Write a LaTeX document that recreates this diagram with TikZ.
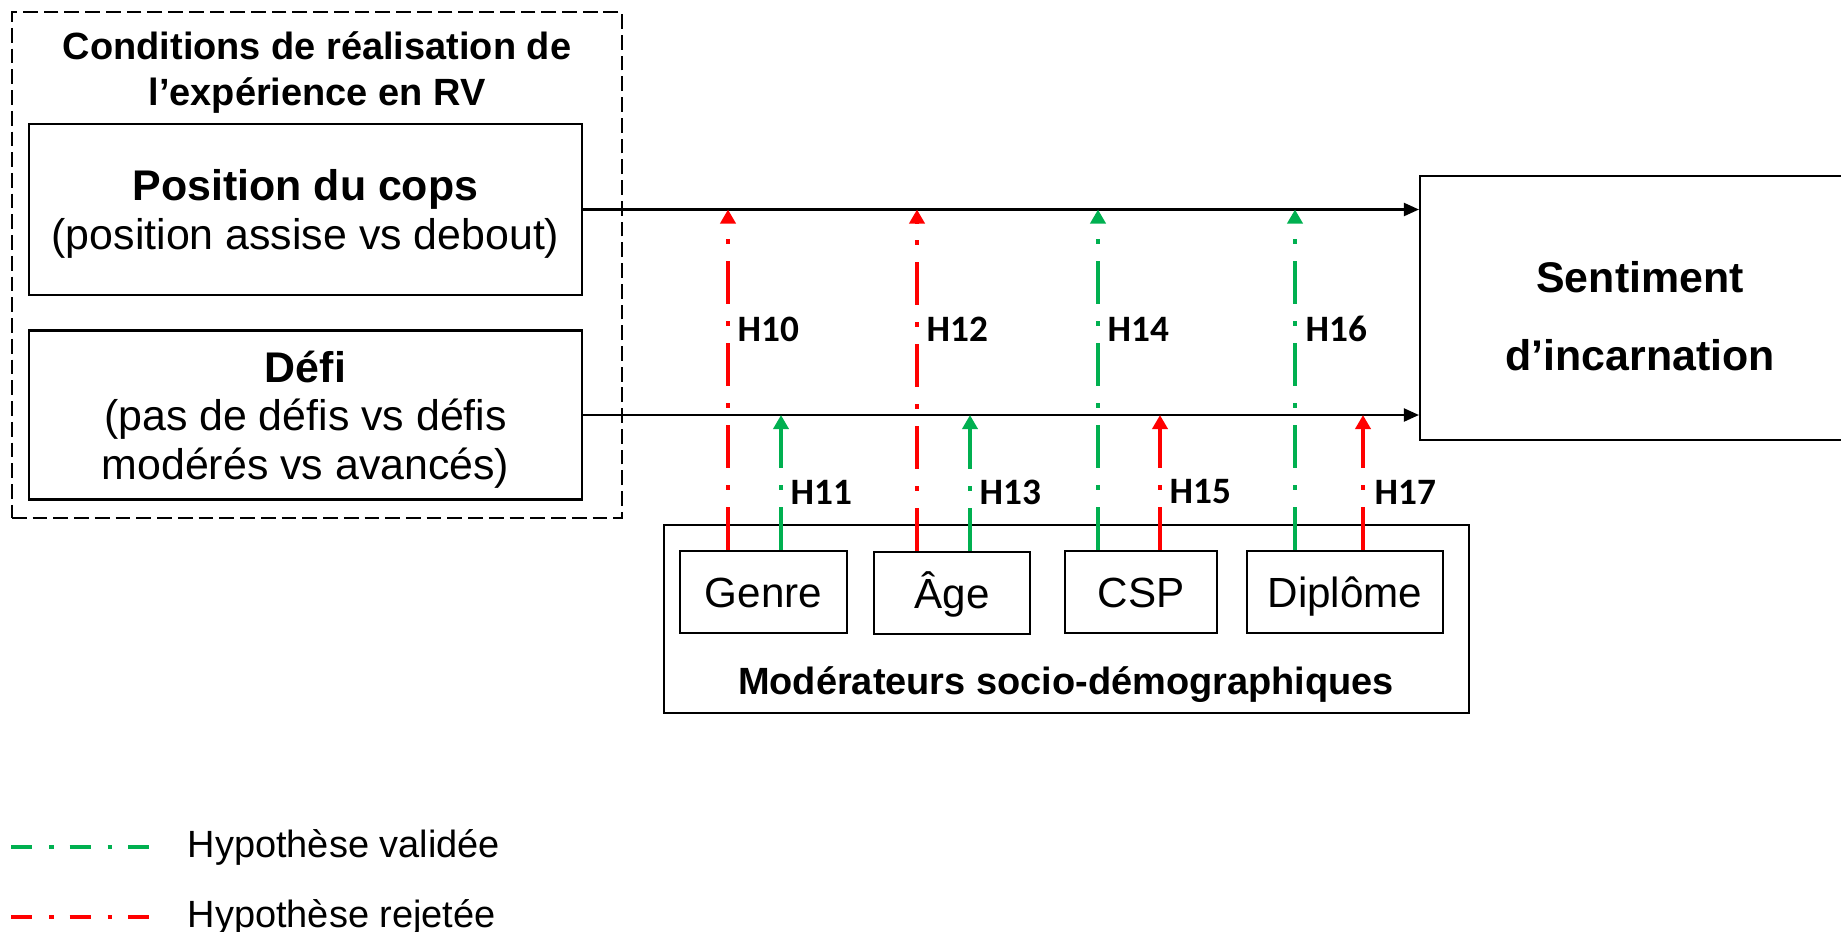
\documentclass[tikz,border=0pt]{standalone}
\usepackage{fontspec}
\setmainfont{Liberation Sans}
\newfontfamily\hypfont{Carlito}
\usetikzlibrary{arrows.meta, positioning}
\definecolor{valgreen}{RGB}{0,176,80}
\definecolor{rejred}{RGB}{255,0,0}

\begin{document}
\begin{tikzpicture}[
    box/.style={draw, line width=0.6pt, inner sep=0pt, align=center},
    big/.style={font=\fontsize{12.2}{13.8}\selectfont},
    mid/.style={font=\fontsize{12}{14}\selectfont, text height=8.6pt, text depth=0pt},
    small/.style={font=\fontsize{10.8}{12.8}\selectfont, inner sep=0pt},
    titre/.style={font=\fontsize{10.8}{13.2}\selectfont\bfseries, align=center},
    hyplab/.style={font=\hypfont\bfseries\fontsize{10.6}{12}\selectfont, inner sep=0pt, anchor=west},
    fleche/.style={line width=0.6pt, -{Triangle[length=0.15cm, width=0.13cm]}},
    hyp/.style={line width=1.2pt, dash pattern=on 0.43cm off 0.17cm on 0.05cm off 0.17cm,
        -{Triangle[length=0.14cm, width=0.15cm]}},
    valid/.style={hyp, valgreen},
    rejet/.style={hyp, rejred},
    legline/.style={line width=1.1pt, dash pattern=on 0.21cm off 0.17cm on 0.045cm off 0.16cm}
]
\useasboundingbox (0,0) rectangle (18.41,9.31);

% Conditions de realisation (dashed frame)
\node[draw, line width=0.6pt, dash pattern=on 4.2pt off 1.7pt,
      minimum width=6.10cm, minimum height=5.06cm] (cond) at (3.17,6.66) {};
\node[titre] (condlab) at (3.17,8.585) {Conditions de réalisation de\\l’expérience en RV};

\node[box, big, text depth=-0.06cm, minimum width=5.53cm, minimum height=1.71cm] (pos) at (3.055,7.215)
    {\textbf{Position du cops}\\(position assise vs debout)};
\node[box, big, text depth=0pt, minimum width=5.53cm, minimum height=1.69cm] (defi) at (3.055,5.16)
    {\textbf{Défi}\\(pas de défis vs défis\\modérés vs avancés)};

% Dependent variable
\node[box, minimum width=4.5cm, minimum height=2.64cm] (sent) at (16.45,6.23) {};
\node[font=\fontsize{12.2}{22.2}\selectfont\bfseries, align=center] (senttxt) at (16.40,6.15)
    {Sentiment\\d’incarnation};

\draw[fleche] (pos.east) -- (pos.east -| sent.west);
\draw[fleche] (defi.east) -- (defi.east -| sent.west);

% Moderators
\node[box, minimum width=8.05cm, minimum height=1.88cm] (mod) at (10.665,3.12) {};
\node[titre] (modlab) at (10.66,2.46) {Modérateurs socio-démographiques};

\node[box, mid, minimum width=1.67cm, minimum height=0.82cm] (genre) at (7.635,3.39) {Genre};
\node[box, mid, minimum width=1.56cm, minimum height=0.82cm] (age) at (9.52,3.38) {Âge};
\node[box, mid, minimum width=1.52cm, minimum height=0.82cm] (csp) at (11.41,3.39) {CSP};
\node[box, mid, minimum width=1.96cm, minimum height=0.82cm] (dipl) at (13.45,3.39) {Diplôme};

% Hypotheses
\draw[rejet] (7.28,0 |- genre.north) -- (7.28,0 |- pos.east);
\draw[valid] (7.81,0 |- genre.north) -- (7.81,0 |- defi.east);
\draw[rejet] (9.17,0 |- age.north) -- (9.17,0 |- pos.east);
\draw[valid] (9.70,0 |- age.north) -- (9.70,0 |- defi.east);
\draw[valid] (10.98,0 |- csp.north) -- (10.98,0 |- pos.east);
\draw[rejet] (11.60,0 |- csp.north) -- (11.60,0 |- defi.east);
\draw[valid] (12.95,0 |- dipl.north) -- (12.95,0 |- pos.east);
\draw[rejet] (13.63,0 |- dipl.north) -- (13.63,0 |- defi.east);

\node[hyplab] (h10) at (7.37,6.02) {H10};
\node[hyplab] (h11) at (7.90,4.39) {H11};
\node[hyplab] (h12) at (9.26,6.02) {H12};
\node[hyplab] (h13) at (9.79,4.39) {H13};
\node[hyplab] (h14) at (11.07,6.02) {H14};
\node[hyplab] (h15) at (11.69,4.39) {H15};
\node[hyplab] (h16) at (13.05,6.02) {H16};
\node[hyplab] (h17) at (13.74,4.39) {H17};

% Legend
\node[small, anchor=west] (legv) at (1.87,0.84) {Hypothèse validée};
\node[small, anchor=west] (legr) at (1.87,0.14) {Hypothèse rejetée};
\draw[legline, valgreen] (0.11,0 |- legv.west) -- (1.51,0 |- legv.west);
\draw[legline, rejred] (0.11,0 |- legr.west) -- (1.51,0 |- legr.west);
\end{tikzpicture}
\end{document}
